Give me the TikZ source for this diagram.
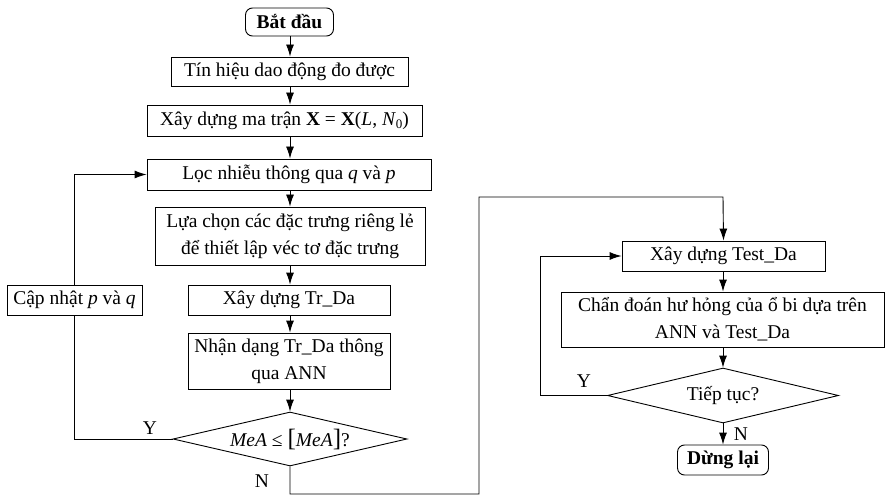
\documentclass[tikz,border=0pt]{standalone}
\usepackage{fontspec}
\setmainfont{Liberation Serif}
\usetikzlibrary{arrows.meta,shapes.geometric}
\newcommand{\bigbr}[1]{{\fontsize{25}{25}\selectfont #1}}
\newcommand{\subz}[1]{\raisebox{-0.35ex}{\fontsize{13}{13}\selectfont #1}}
\begin{document}
\begin{tikzpicture}[x=1pt,y=-1pt,
  every node/.style={font=\fontsize{19.5}{27}\selectfont, inner sep=0pt},
  proc/.style={draw, line width=0.9pt, align=center},
  term/.style={draw, line width=0.9pt, rounded corners=7pt, font=\fontsize{19.5}{27}\selectfont\bfseries},
  dec/.style={draw, line width=0.9pt, diamond, shape aspect=4.3, inner sep=0pt},
  conn/.style={line width=0.9pt},
  arr/.style={line width=0.9pt, -{Latex[length=12pt,width=8pt]}},
  lbl/.style={font=\fontsize{19.5}{27}\selectfont}]
\useasboundingbox (0,0) rectangle (886,497);
% left column
\node[term, minimum width=88pt, minimum height=28pt] (start) at (289.5,22) {Bắt đầu};
\node[proc, minimum width=237pt, minimum height=29pt] (b1) at (289.5,71.5) {Tín hiệu dao động đo được};
\node[proc, minimum width=275pt, minimum height=31pt] (b2) at (284.5,120.5) {Xây dựng ma trận \textbf{X} = \textbf{X}(\textit{L}, \textit{N}\subz{0})};
\node[proc, minimum width=284pt, minimum height=31pt] (b3) at (289,174.5) {Lọc nhiễu thông qua \textit{q} và \textit{p}};
\node[proc, minimum width=270pt, minimum height=58pt] (b4) at (290,236) {Lựa chọn các đặc trưng riêng lẻ\\để thiết lập véc tơ đặc trưng};
\node[proc, minimum width=202pt, minimum height=30pt] (b5) at (289,300) {Xây dựng Tr\_Da};
\node[proc, minimum width=202pt, minimum height=56pt] (b6) at (289,361) {Nhận dạng Tr\_Da thông\\qua ANN};
\node[dec, minimum width=234pt, minimum height=54pt] (d1) at (290,439) {\textit{MeA} ≤ \bigbr{[}\textit{MeA}\bigbr{]}?};
\node[proc, minimum width=135pt, minimum height=30pt] (cap) at (74.5,300) {Cập nhật \textit{p} và \textit{q}};
% right column
\node[proc, minimum width=203pt, minimum height=30pt] (test) at (723.5,256) {Xây dựng Test\_Da};
\node[proc, minimum width=323pt, minimum height=55pt] (chan) at (722.5,319.5) {Chẩn đoán hư hỏng của ổ bi dựa trên\\ANN và Test\_Da};
\node[dec, minimum width=231pt, minimum height=55pt] (d2) at (723,395.5) {Tiếp tục?};
\node[term, minimum width=91pt, minimum height=30pt] (stop) at (723,460) {Dừng lại};
% coordinates
\coordinate (x0) at (290,0);
\coordinate (c1) at (479,494);
\coordinate (c2) at (723,197);
\coordinate (c3) at (540,395.5);
% main arrows
\draw[arr] (start.south -| x0) -- (b1.north -| x0);
\draw[arr] (b1.south -| x0) -- (b2.north -| x0);
\draw[arr] (b2.south -| x0) -- (b3.north -| x0);
\draw[arr] (b3.south -| x0) -- (b4.north -| x0);
\draw[arr] (b4.south -| x0) -- (b5.north -| x0);
\draw[arr] (b5.south -| x0) -- (b6.north -| x0);
\draw[arr] (b6.south -| x0) -- (d1.north);
% Y loop left
\draw[conn] (d1.west) -| (cap.south);
\draw[arr] (cap.north) |- (b3.west);
\node[lbl] (ly1) at (150,428) {Y};
% N to right column
\draw[arr] (d1.south) |- (c1) |- (c2) -- (test.north);
\node[lbl] (ln1) at (262,481) {N};
% right column arrows
\draw[arr] (test.south -| d2) -- (chan.north -| d2);
\draw[arr] (chan.south -| d2) -- (d2.north);
\draw[arr] (d2.south) -- (stop.north);
\draw[arr] (d2.west) -- (c3) |- (test.west);
\node[lbl] (ly2) at (584,381) {Y};
\node[lbl] (ln2) at (741,434) {N};
\end{tikzpicture}
\end{document}
